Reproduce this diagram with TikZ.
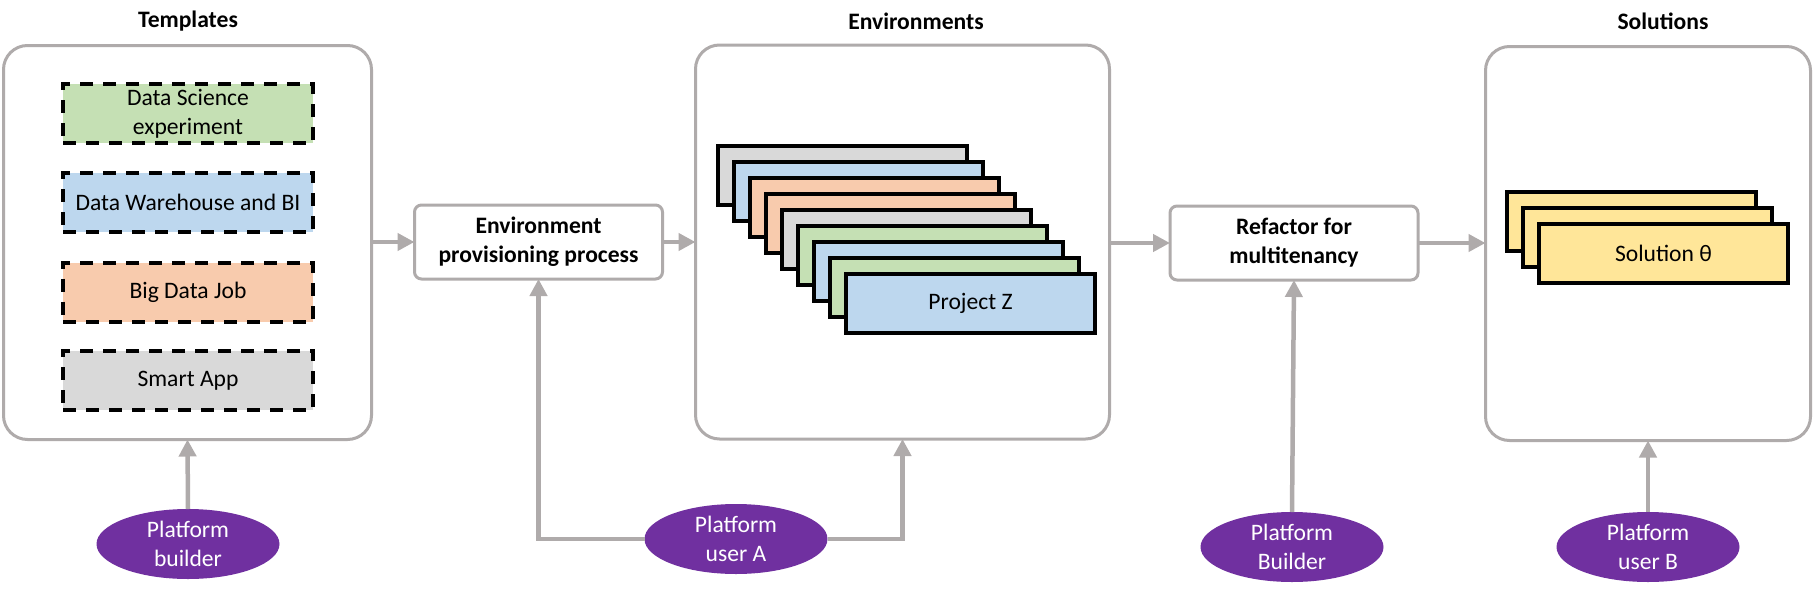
\documentclass[tikz,border=0pt]{standalone}
\usepackage{fontspec}
\setmainfont{Carlito}
\usetikzlibrary{arrows.meta,shapes.geometric}
\definecolor{lgray}{HTML}{AFABAB}
\definecolor{cgreen}{HTML}{C5E0B4}
\definecolor{cblue}{HTML}{BDD7EE}
\definecolor{corange}{HTML}{F8CBAD}
\definecolor{cgray}{HTML}{D9D9D9}
\definecolor{cyellow}{HTML}{FFE699}
\definecolor{cpurple}{HTML}{7030A0}
\newcommand{\basefont}{\fontsize{11.8}{14.4}\selectfont}
\tikzset{
  bigbox/.style={draw=lgray, line width=1.5pt, rounded corners=12pt, fill=white, inner sep=0pt, outer sep=0pt, minimum height=197pt},
  title/.style={font=\basefont\bfseries, anchor=center, inner sep=0pt},
  tmplbox/.style={draw=black, line width=2pt, dash pattern=on 6.5pt off 5pt, minimum width=125pt, minimum height=29.5pt, inner sep=0pt, outer sep=0pt, align=center},
  procbox/.style={draw=lgray, line width=1.5pt, rounded corners=3.5pt, fill=white, minimum width=124pt, minimum height=37pt, inner sep=0pt, outer sep=0pt, align=center, font=\basefont\bfseries},
  card/.style={draw=black, line width=2pt, minimum width=124.5pt, minimum height=29.5pt, inner sep=0pt, outer sep=0pt},
  actor/.style={ellipse, fill=cpurple, text=white, minimum width=91.5pt, minimum height=35pt, inner sep=0pt, outer sep=0pt, align=center},
  arr/.style={draw=lgray, line width=2.25pt, -{Triangle[length=8.5pt,width=8.5pt]}},
  conn/.style={draw=lgray, line width=2.25pt}
}
\begin{document}
\begin{tikzpicture}[x=0.5pt,y=-0.5pt,font=\basefont]
\useasboundingbox (0,0) rectangle (1815,600);
% big containers
\node[bigbox, minimum width=184pt] (tmpl) at (187.5,242.5) {};
\node[bigbox, minimum width=207pt] (env) at (902.5,242) {};
\node[bigbox, minimum width=162.5pt] (sol) at (1648,243.5) {};
\node[title] (ttmpl) at (188,21) {Templates};
\node[title] (tenv) at (916,21) {Environments};
\node[title] (tsol) at (1663,21) {Solutions};
% templates
\node[tmplbox, fill=cgreen] (ds) at (188,113.5) {Data Science\\experiment};
\node[tmplbox, fill=cblue] (dw) at (188,202.5) {Data Warehouse and BI};
\node[tmplbox, fill=corange] (bd) at (188,292) {Big Data Job};
\node[tmplbox, fill=cgray] (sa) at (188,380.5) {Smart App};
% process boxes
\node[procbox] (prov) at (538.5,242) {Environment\\provisioning process};
\node[procbox] (refac) at (1294,243) {Refactor for\\multitenancy};
% environment cards
\node[card, fill=cgray] (c0) at (842.5,175.5) {};
\node[card, fill=cblue] (c1) at (858.5,191.5) {};
\node[card, fill=corange] (c2) at (874.5,207.5) {};
\node[card, fill=corange] (c3) at (890.5,223.5) {};
\node[card, fill=cgray] (c4) at (906.5,239.5) {};
\node[card, fill=cgreen] (c5) at (922.5,255.5) {};
\node[card, fill=cblue] (c6) at (938.5,271.5) {};
\node[card, fill=cgreen] (c7) at (954.5,287.5) {};
\node[card, fill=cblue] (c8) at (970.5,303.5) {Project Z};
% solution cards
\node[card, fill=cyellow] (s0) at (1631.5,221.5) {};
\node[card, fill=cyellow] (s1) at (1647.5,237.5) {};
\node[card, fill=cyellow] (s2) at (1663.5,253.5) {Solution θ};
% actors
\node[actor] (pb) at (188,544) {Platform\\builder};
\node[actor] (ua) at (736,539) {Platform\\user A};
\node[actor] (pB) at (1292,547) {Platform\\Builder};
\node[actor] (ub) at (1648,547) {Platform\\user B};
% connectors
\draw[arr] (tmpl.east |- prov.west) -- (prov.west);
\draw[arr] (prov.east) -- (prov.east -| env.west);
\draw[arr] (env.east |- refac.west) -- (refac.west);
\draw[arr] (refac.east) -- (refac.east -| sol.west);
\draw[arr] (pb.north) -- (tmpl.south);
\draw[arr] (ua.east) -| (env.south);
\draw[arr] (ua.west) -| (prov.south);
\draw[arr] (pB.north) -- (refac.south);
\draw[arr] (ub.north) -- (sol.south);
\end{tikzpicture}
\end{document}
